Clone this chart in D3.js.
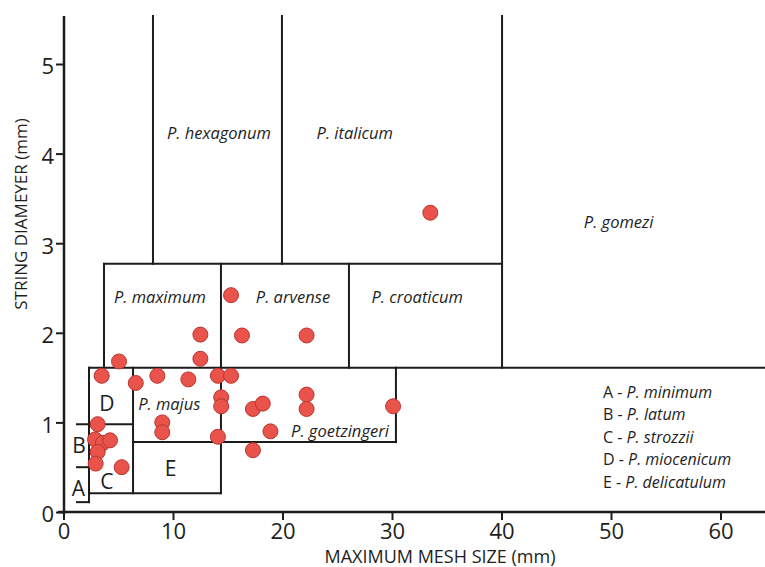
<!DOCTYPE html>
<html><head><meta charset="utf-8">
<script src="https://cdn.jsdelivr.net/npm/d3@7"></script>
<style>
body{margin:0;background:#fff;}
text{font-family:"Open Sans",sans-serif;fill:#1e1e1e;}
</style></head>
<body><svg id="c" width="765" height="567"></svg>
<script>
// measured specimens: maximum mesh size (mm) and string diameter (mm)
const meshSize = [33.5,15.3,12.5,16.3,22.2,12.5,5.07,3.49,6.6,8.57,11.4,14.1,15.3,14.4,14.4,17.3,18.2,22.2,22.2,30.1,18.9,14.1,17.3,9.02,9.02,3.12,2.88,3.6,4.25,3.12,2.94,5.31];
const stringDiam = [3.34,2.42,1.98,1.97,1.97,1.71,1.68,1.52,1.44,1.52,1.48,1.52,1.52,1.28,1.18,1.15,1.21,1.31,1.15,1.18,0.90,0.84,0.69,1.0,0.89,0.98,0.81,0.77,0.80,0.67,0.54,0.50];
// region boundaries [x1,y1,x2,y2] in data units
const TOP = 5.536, RIGHT = 64.1;
const boundaries = [
  [8.17,2.77,8.17,TOP],[19.95,2.77,19.95,TOP],[40.05,1.61,40.05,TOP],
  [3.7,2.77,40.05,2.77],[3.7,1.61,3.7,2.77],[14.38,0.21,14.38,2.77],
  [26.07,1.61,26.07,2.77],[2.33,1.61,RIGHT,1.61],[30.36,0.78,30.36,1.61],
  [6.35,0.78,30.36,0.78],[6.35,0.21,6.35,1.61],[1.23,0.98,6.35,0.98],
  [1.23,0.50,2.33,0.50],[2.33,0.11,2.33,1.61],[2.33,0.21,14.38,0.21],
  [1.23,0.11,2.33,0.11]
];
const speciesLabels = ["P. hexagonum","P. italicum","P. gomezi","P. maximum","P. arvense","P. croaticum","P. majus","P. goetzingeri"];
const speciesX = [14.2,26.6,50.7,8.8,20.96,32.3,9.66,25.25];
const speciesY = [4.23,4.23,3.23,2.40,2.40,2.40,1.205,0.896];
const letterLabels = ["A","B","C","D","E"];
const letterX = [1.35,1.42,3.95,3.95,9.79];
const letterY = [0.265,0.74,0.346,1.21,0.49];
const legendNames = ["P. minimum","P. latum","P. strozzii","P. miocenicum","P. delicatulum"];
const xTicks = [0,10,20,30,40,50,60];
const yTicks = [0,1,2,3,4,5];

const svg = d3.select("#c");
const x = d3.scaleLinear().domain([0,60]).range([63.5,720.5]);
const y = d3.scaleLinear().domain([0,5]).range([512,64]);

// boundaries
svg.append("g").selectAll("line").data(boundaries).join("line")
  .attr("x1",d=>x(d[0])).attr("y1",d=>y(d[1])).attr("x2",d=>x(d[2])).attr("y2",d=>y(d[3]))
  .attr("stroke","#1c1c1c").attr("stroke-width",2).attr("stroke-linecap","square");

// axes
const xAx = svg.append("g").attr("transform","translate(0,512)")
  .call(d3.axisBottom(x).tickValues(xTicks).tickFormat(d3.format("d")).tickSize(8).tickSizeOuter(0).tickPadding(3));
xAx.select(".domain").remove();
xAx.selectAll("line").attr("stroke","#1c1c1c").attr("stroke-width",2);
xAx.selectAll("text").attr("font-size",22).attr("font-family","Open Sans").attr("fill","#1e1e1e");
svg.append("line").attr("x1",58).attr("x2",765).attr("y1",512).attr("y2",512).attr("stroke","#1c1c1c").attr("stroke-width",2.5);

const yAx = svg.append("g").attr("transform","translate(64,0)")
  .call(d3.axisLeft(y).tickValues(yTicks).tickFormat(d3.format("d")).tickSize(8).tickSizeOuter(0).tickPadding(2));
yAx.select(".domain").remove();
yAx.selectAll("line").attr("stroke","#1c1c1c").attr("stroke-width",2);
yAx.selectAll("text").attr("font-size",22).attr("font-family","Open Sans").attr("fill","#1e1e1e").attr("dy","0.45em");
svg.append("line").attr("x1",64).attr("x2",64).attr("y1",16).attr("y2",514).attr("stroke","#1c1c1c").attr("stroke-width",2.5);

// axis titles
svg.append("text").attr("x",440).attr("y",563).attr("text-anchor","middle")
  .attr("font-size",18).text("MAXIMUM MESH SIZE (mm)");
svg.append("text").attr("transform","translate(27,214) rotate(-90)").attr("text-anchor","middle")
  .attr("font-size",17).text("STRING DIAMEYER (mm)");

// species labels
svg.append("g").selectAll("text").data(speciesLabels).join("text")
  .attr("x",(d,i)=>x(speciesX[i])).attr("y",(d,i)=>y(speciesY[i])).attr("dy","0.35em")
  .attr("text-anchor","middle").attr("font-style","italic").attr("font-size",16.5).text(d=>d);

// letters
svg.append("g").selectAll("text").data(letterLabels).join("text")
  .attr("x",(d,i)=>x(letterX[i])).attr("y",(d,i)=>y(letterY[i])).attr("dy","0.36em")
  .attr("text-anchor","middle").attr("font-size",21).text(d=>d);

// points
svg.append("g").selectAll("circle").data(meshSize).join("circle")
  .attr("cx",d=>x(d)).attr("cy",(d,i)=>y(stringDiam[i])).attr("r",7.5)
  .attr("fill","#e9534b").attr("stroke","#b8362e").attr("stroke-width",1);

// legend
const lg = svg.append("g");
letterLabels.forEach((l,i)=>{
  const t = lg.append("text").attr("x",603).attr("y",392+i*22.5).attr("dy","0.35em").attr("font-size",16);
  t.append("tspan").text(l+" - ");
  t.append("tspan").attr("font-style","italic").text(legendNames[i]);
});
</script></body></html>
